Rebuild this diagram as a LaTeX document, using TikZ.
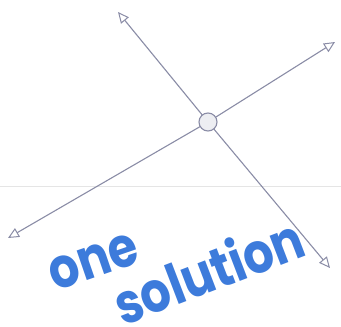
\documentclass[tikz,border=0pt]{standalone}
\usepackage{fontspec}
\setmainfont{Poppins}
\usetikzlibrary{arrows.meta}
\definecolor{pencil}{HTML}{8A8CA6}
\definecolor{marker}{HTML}{3D7BDB}
\tikzset{
  sketchline/.style={draw=pencil, line width=1.1pt, -{Triangle[open,length=11pt,width=10pt,line width=1pt]}},
  hand/.style={text=marker, font=\bfseries\fontsize{56}{56}\selectfont, inner sep=0pt},
}
\begin{document}
\begin{tikzpicture}[x=1pt,y=-1pt]
\useasboundingbox (0,0) rectangle (341,327);
% faint fold line
\draw[black!10, line width=0.6pt] (0,186) -- (341,186);
\coordinate (x) at (208,122);
\coordinate (a1) at (118,12);
\coordinate (a2) at (330,268);
\coordinate (b1) at (8,238);
\coordinate (b2) at (335,42);
\draw[sketchline] (x) -- (a1);
\draw[sketchline] (x) -- (a2);
\draw[sketchline] (x) -- (b1);
\draw[sketchline] (x) -- (b2);
\node[circle, draw=pencil, fill=pencil!15, line width=1.1pt, minimum size=18pt, inner sep=0pt] (pt) at (x) {};
\node[hand, rotate=19] (one) at (94,262) {\scalebox{0.85}[1]{one}};
\node[hand, rotate=21] (sol) at (208,270) {\scalebox{0.85}[1]{solution}};
\end{tikzpicture}
\end{document}
